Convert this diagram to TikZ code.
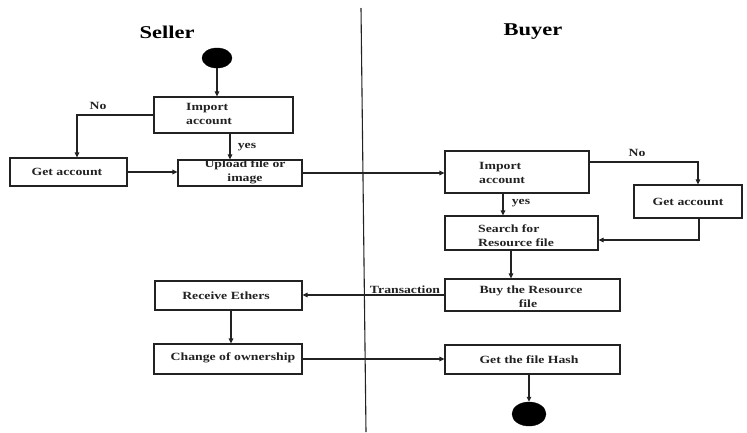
\documentclass[tikz,border=0pt]{standalone}
\usepackage{fontspec}
\setmainfont[FakeStretch=1.25]{Liberation Serif}
\usetikzlibrary{arrows.meta,shapes.geometric}
\definecolor{ink}{HTML}{222222}
\begin{document}
\begin{tikzpicture}[x=1pt,y=-1pt,
  box/.style={draw=ink,line width=1.1pt,rectangle,inner sep=0pt},
  txt/.style={text=ink,font=\fontsize{11}{14}\selectfont\bfseries,inner sep=0pt},
  lbl/.style={text=ink,font=\fontsize{11}{13}\selectfont\bfseries,inner sep=0pt},
  ttl/.style={text=black,font=\fontsize{18}{20}\selectfont\bfseries,inner sep=0pt},
  dot/.style={ellipse,fill=black,draw=black,inner sep=0pt},
  con/.style={draw=ink,line width=1.1pt},
  arr/.style={con,-{Triangle[length=5pt,width=4.5pt]}}]
\fill[white] (0,0) rectangle (747,432);
\useasboundingbox (0,0) rectangle (747,432);
% divider
\coordinate (dtop) at (361,8);
\coordinate (dbot) at (366,432);
\draw[con] (dtop) -- (dbot);
% titles
\node[ttl] (tseller) at (167,32) {Seller};
\node[ttl] (tbuyer) at (533,32) {Buyer};
% start / end
\node[dot,minimum width=30pt,minimum height=20pt] (start) at (217,58) {};
\node[dot,minimum width=34pt,minimum height=24pt] (end) at (529,414) {};
% seller boxes
\node[box,minimum width=139pt,minimum height=36pt] (simp) at (223.5,115) {};
\node[txt,anchor=west,align=left] (simpt) at (186,114) {Import\\account};
\node[box,minimum width=117pt,minimum height=28pt] (sget) at (68.5,172) {};
\node[txt] (sgett) at (67,172) {Get account};
\node[box,minimum width=124pt,minimum height=26pt] (supl) at (240,173) {};
\node[txt,align=center] (suplt) at (245,172) {Upload file or\\image};
\node[box,minimum width=147pt,minimum height=29pt] (srec) at (228.5,295.5) {};
\node[txt] (srect) at (226,296) {Receive Ethers};
\node[box,minimum width=148pt,minimum height=30pt] (schg) at (228,359) {};
\node[txt] (schgt) at (233,358) {Change of ownership};
% buyer boxes
\node[box,minimum width=144pt,minimum height=42pt] (bimp) at (517,172) {};
\node[txt,anchor=west,align=left] (bimpt) at (479,173) {Import\\account};
\node[box,minimum width=108pt,minimum height=33pt] (bget) at (688,201.5) {};
\node[txt] (bgett) at (688,202) {Get account};
\node[box,minimum width=153pt,minimum height=34pt] (bsrc) at (521.5,233) {};
\node[txt,anchor=west,align=left] (bsrct) at (478,236) {Search for\\Resource file};
\node[box,minimum width=175pt,minimum height=32pt] (bbuy) at (532.5,295) {};
\node[txt,align=center] (bbuyt) at (531,297) {Buy the Resource\\\hspace*{-6pt}file};
\node[box,minimum width=175pt,minimum height=29pt] (bhash) at (532.5,359.5) {};
\node[txt] (bhasht) at (529,360) {Get the file Hash};
% labels
\node[lbl] (no1) at (98,106) {No};
\node[lbl] (yes1) at (247,147) {yes};
\node[lbl] (no2) at (637,153) {No};
\node[lbl] (yes2) at (521,203) {yes};
\node[lbl] (trans) at (405,290) {Transaction};
% connectors
\draw[arr] (start.south) -- (start.south |- simp.north);
\draw[arr] (simp.west) -| ([xshift=8.5pt]sget.north);
\draw[arr] ([xshift=6.5pt]simp.south) -- ([xshift=6.5pt]simp.south |- supl.north);
\draw[arr] (sget.east) -- (sget.east -| supl.west);
\draw[arr] (supl.east) -- (supl.east -| bimp.west);
\draw[arr] ([yshift=10pt]bimp.east) -| ([xshift=10pt]bget.north);
\draw[arr] ([xshift=-14pt]bimp.south) -- ([xshift=-14pt]bimp.south |- bsrc.north);
\draw[arr] ([xshift=11pt]bget.south) |- ([yshift=-7pt]bsrc.east);
\draw[arr] ([xshift=-10.5pt]bsrc.south) -- ([xshift=-10.5pt]bsrc.south |- bbuy.north);
\draw[arr] (bbuy.west) -- (bbuy.west -| srec.east);
\draw[arr] ([xshift=2.5pt]srec.south) -- ([xshift=2.5pt]srec.south |- schg.north);
\draw[arr] (schg.east) -- (schg.east -| bhash.west);
\draw[arr] (end.north |- bhash.south) -- (end.north);
\end{tikzpicture}
\end{document}
